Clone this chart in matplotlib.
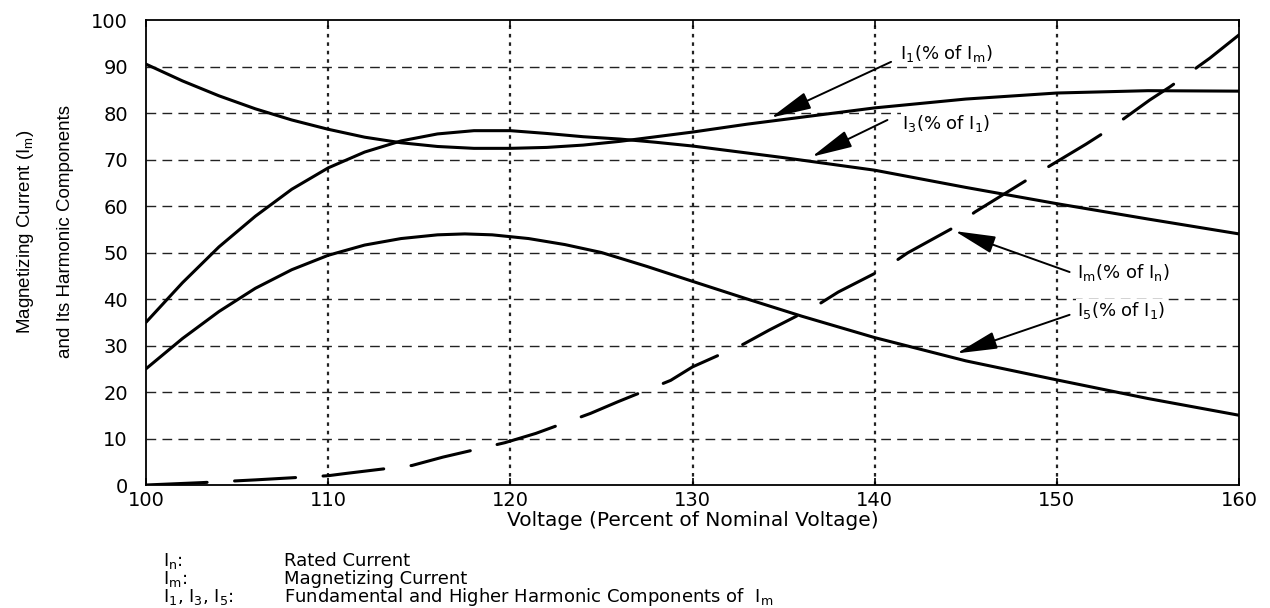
from __future__ import annotations

import matplotlib

matplotlib.use("Agg")

import matplotlib.pyplot as plt


OUTPUT_PATH = "out.png"

# Voltage (% of nominal) sample points
I1_VOLTAGE = [100, 102, 104, 106, 108, 110, 112, 114, 116, 118, 120, 122,
              124, 126, 128, 130, 133, 136, 140, 145, 150, 155, 160]
I1_PERCENT = [90.5, 86.9, 83.7, 80.9, 78.5, 76.5, 74.8, 73.6, 72.8, 72.4,
              72.4, 72.6, 73.1, 73.9, 74.9, 75.9, 77.6, 79.1, 81.1, 83.0,
              84.3, 84.8, 84.7]

I3_VOLTAGE = [100, 102, 104, 106, 108, 110, 112, 114, 116, 118, 120, 122,
              124, 126, 128, 130, 135, 140, 145, 150, 155, 160]
I3_PERCENT = [35.0, 43.5, 51.2, 57.8, 63.6, 68.2, 71.6, 74.0, 75.5, 76.2,
              76.2, 75.6, 74.9, 74.4, 73.7, 72.9, 70.4, 67.7, 64.0, 60.5,
              57.2, 54.0]

I5_VOLTAGE = [100, 102, 104, 106, 108, 110, 112, 114, 116, 117.5, 119, 121,
              123, 125, 127.5, 130, 133, 136, 140, 145, 150, 155, 160]
I5_PERCENT = [25.0, 31.5, 37.3, 42.3, 46.3, 49.4, 51.6, 53.0, 53.8, 54.0,
              53.8, 53.0, 51.7, 50.0, 47.0, 43.8, 40.0, 36.3, 31.7, 26.7,
              22.6, 18.6, 15.0]

IM_VOLTAGE = [100, 103, 106, 110, 111, 114.6, 116.3, 119.7, 121.4, 124.4,
              125.9, 128.8, 130, 132.8, 134.2, 136.7, 138, 140.6, 141.8, 144.4,
              145.5, 149.6, 151.6, 152.8, 155.1, 156.2, 158.4, 160]
IM_PERCENT = [0.0, 0.5, 1.1, 2.0, 2.5, 4.2, 6.0, 9.1, 11.1, 15.4,
              17.9, 22.5, 25.4, 30.3, 33.3, 38.3, 41.5, 46.7, 49.9, 55.5,
              58.7, 68.6, 73.3, 76.3, 82.8, 85.6, 91.8, 96.8]

X_TICKS = [100, 110, 120, 130, 140, 150, 160]
Y_TICKS = [0, 10, 20, 30, 40, 50, 60, 70, 80, 90, 100]

CURVE_LABELS = [
    "I$_1$(% of I$_m$)",
    "I$_3$(% of I$_1$)",
    "I$_m$(% of I$_n$)",
    "I$_5$(% of I$_1$)",
]

FOOTNOTE_KEYS = ["I$_n$:", "I$_m$:", "I$_1$, I$_3$, I$_5$:"]
FOOTNOTE_TEXTS = [
    "Rated Current",
    "Magnetizing Current",
    "Fundamental and Higher Harmonic Components of  I$_m$",
]

Y_LABEL_LINES = ["Magnetizing Current (I$_m$)", "and Its Harmonic Components"]
X_LABEL = "Voltage (Percent of Nominal Voltage)"


def draw_grid(axis) -> None:
    """Dashed horizontal and dotted vertical guide lines."""

    for value in Y_TICKS[1:-1]:
        axis.axhline(value, color="#222222", lw=1.0,
                     dashes=(7, 4.5), zorder=1)
    for value in X_TICKS[1:-1]:
        axis.axvline(value, color="#222222", lw=1.6,
                     dashes=(1.6, 2.2), zorder=1)


def draw_labels(axis) -> None:
    """Curve names with their pointer arrows."""

    arrows = [
        ((140.9, 91.0), (134.3, 79.0)),
        ((140.7, 78.5), (136.55, 70.6)),
        ((150.7, 45.8), (144.4, 54.6)),
        ((150.7, 36.6), (144.5, 28.3)),
    ]
    text_spots = [(141.4, 92.9), (141.5, 77.8), (151.1, 45.8), (151.1, 37.6)]

    for (start, tip), (tx, ty), label in zip(arrows, text_spots, CURVE_LABELS):
        axis.annotate(
            "",
            xy=tip,
            xytext=start,
            arrowprops=dict(
                arrowstyle="-|>,head_length=1.4,head_width=0.3",
                mutation_scale=18,
                lw=1.4,
                color="black",
                shrinkA=0,
                shrinkB=0,
            ),
            zorder=5,
        )
        axis.text(tx, ty, label, fontsize=13, ha="left", va="center",
                  zorder=6, bbox=dict(fc="white", ec="none", pad=0.5))


def main() -> int:
    plt.rcParams["font.family"] = ["DejaVu Sans"]
    plt.rcParams["mathtext.default"] = "regular"

    figure = plt.figure(figsize=(12.7, 6.08), dpi=100)
    axis = figure.add_axes([0.1150, 0.2023, 0.8606, 0.7648])

    draw_grid(axis)

    line_style = dict(color="black", lw=2.2, solid_capstyle="round",
                      solid_joinstyle="round", zorder=3)
    axis.plot(I1_VOLTAGE, I1_PERCENT, **line_style)
    axis.plot(I3_VOLTAGE, I3_PERCENT, **line_style)
    axis.plot(I5_VOLTAGE, I5_PERCENT, **line_style)
    axis.plot(IM_VOLTAGE, IM_PERCENT, color="black", lw=2.2,
              dashes=(20, 9), dash_capstyle="round", zorder=3)

    axis.set_xlim(X_TICKS[0], X_TICKS[-1])
    axis.set_ylim(Y_TICKS[0], Y_TICKS[-1])
    axis.set_xticks(X_TICKS)
    axis.set_yticks(Y_TICKS)
    axis.tick_params(axis="both", direction="in", length=5, width=1.2,
                     labelsize=14, top=True, right=False)
    axis.tick_params(axis="y", pad=13, left=False)
    axis.tick_params(axis="x", pad=4)
    for spine in axis.spines.values():
        spine.set_linewidth(1.3)

    axis.set_xlabel(X_LABEL, fontsize=14.5, labelpad=1)

    draw_labels(axis)

    for offset, line in zip([26, 65], Y_LABEL_LINES):
        figure.text(offset / 1270, 1 - 232 / 608, line, rotation=90,
                    ha="center", va="center", fontsize=13.5,
                    family=["Liberation Sans", "DejaVu Sans"])

    for row, (key, text) in enumerate(zip(FOOTNOTE_KEYS, FOOTNOTE_TEXTS)):
        y = 1 - (561 + 18 * row) / 608
        figure.text(163 / 1270, y, key, fontsize=13, ha="left", va="center")
        figure.text(284 / 1270, y, text, fontsize=13, ha="left", va="center")

    figure.savefig(OUTPUT_PATH, dpi=100)
    plt.close(figure)
    return 0


if __name__ == "__main__":
    raise SystemExit(main())
